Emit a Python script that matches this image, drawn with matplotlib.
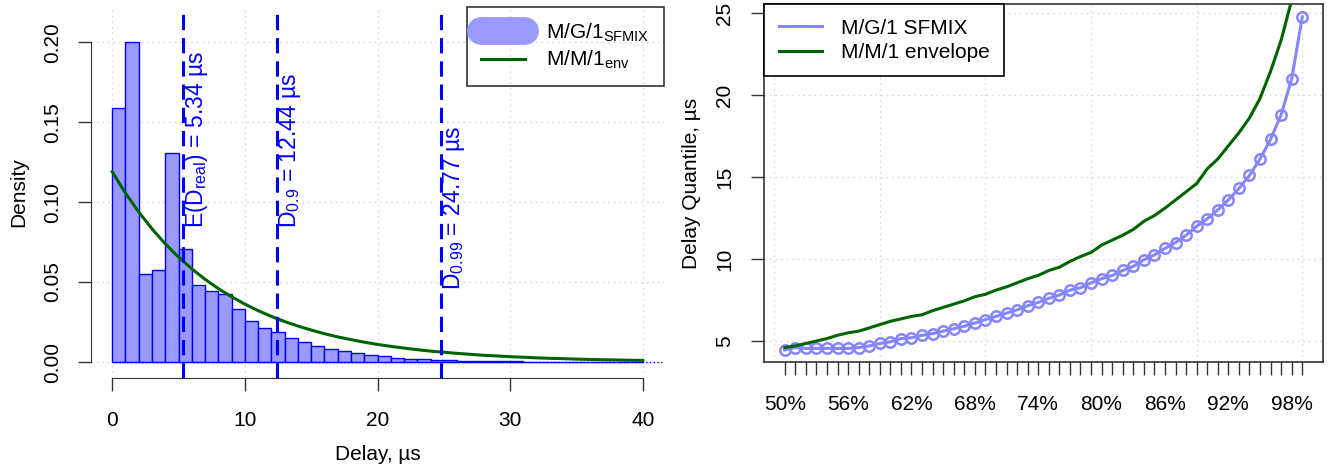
import matplotlib
matplotlib.use("Agg")
import matplotlib.pyplot as plt
from matplotlib.lines import Line2D
import numpy as np

plt.rcParams['font.family'] = ['Liberation Sans', 'DejaVu Sans']
plt.rcParams['mathtext.fontset'] = 'custom'
plt.rcParams['mathtext.rm'] = 'Liberation Sans'
plt.rcParams['mathtext.it'] = 'Liberation Sans:italic'
plt.rcParams['mathtext.bf'] = 'Liberation Sans:bold'

# -----------------------------
# Data: delay histogram (density, 1 us bins)
# -----------------------------
bin_left = list(range(0, 40))
hist_density = [0.159, 0.200, 0.0548, 0.0578, 0.131, 0.0704, 0.0482, 0.0441, 0.0425, 0.0334,
                0.0256, 0.0215, 0.0189, 0.0150, 0.0123, 0.0098, 0.0082, 0.0070, 0.0055, 0.0043,
                0.0035, 0.0027, 0.0021, 0.0017, 0.0013, 0.0011, 0.0009, 0.0007, 0.0006, 0.0005,
                0.0004, 0.0003, 0.0003, 0.0002, 0.0002, 0.0001, 0.0001, 0.0001, 0.0001, 0.0001]

# M/M/1 envelope density
env_x = list(range(0, 41))
env_density = [0.119, 0.1056, 0.0938, 0.0833, 0.0739, 0.0656, 0.0583, 0.0517, 0.0459, 0.0408,
               0.0362, 0.0321, 0.0285, 0.0253, 0.0225, 0.0200, 0.0177, 0.0157, 0.0140, 0.0124,
               0.0110, 0.0098, 0.0087, 0.0077, 0.0068, 0.0061, 0.0054, 0.0048, 0.0042, 0.0038,
               0.0033, 0.0030, 0.0026, 0.0023, 0.0021, 0.0018, 0.0016, 0.0014, 0.0013, 0.0011,
               0.0010]

# marked delay statistics
mark_values = [5.34, 12.44, 24.77]
mark_labels = [r"E(D$_{\mathrm{real}}$) = 5.34 µs",
               r"D$_{0.9}$ = 12.44 µs",
               r"D$_{0.99}$ = 24.77 µs"]
mark_text_y = [0.084, 0.084, 0.045]

# -----------------------------
# Data: quantiles 50% .. 99%
# -----------------------------
quant_pct = list(range(50, 100))
q_sfmix = [4.45, 4.6, 4.55, 4.55, 4.55, 4.55, 4.55, 4.6, 4.7, 4.85,
           4.95, 5.15, 5.2, 5.35, 5.45, 5.6, 5.75, 5.9, 6.1, 6.3,
           6.5, 6.7, 6.9, 7.15, 7.35, 7.6, 7.8, 8.1, 8.25, 8.55,
           8.8, 9.0, 9.3, 9.55, 9.95, 10.25, 10.65, 11.0, 11.45, 12.0,
           12.45, 13.0, 13.6, 14.3, 15.1, 16.1, 17.3, 18.8, 21.0, 24.77]
q_env = [4.6, 4.7, 4.85, 5.0, 5.15, 5.35, 5.5, 5.6, 5.8, 6.0,
         6.2, 6.35, 6.5, 6.6, 6.85, 7.05, 7.25, 7.45, 7.7, 7.85,
         8.1, 8.3, 8.55, 8.8, 9.0, 9.3, 9.5, 9.85, 10.15, 10.4,
         10.85, 11.15, 11.45, 11.8, 12.3, 12.65, 13.1, 13.6, 14.1, 14.6,
         15.5, 16.1, 16.9, 17.7, 18.6, 19.8, 21.45, 23.35, 25.8, 30.6]

# -----------------------------
# Styles
# -----------------------------
FS = 15
HIST_FILL = "#9999FF"
SFMIX_COL = "#8585FF"
GREEN = "#006400"
GRID_COL = "#D3D3D3"
GRID_LS = (0, (1, 3))

fig = plt.figure(figsize=(13.31, 4.71), dpi=100)
W, H = 1331, 471

# -----------------------------
# Left panel: histogram
# -----------------------------
ax1 = fig.add_axes([91 / W, (H - 378) / H, 573 / W, 371 / H])
ax1.set_xlim(-1.6, 41.6)
ax1.set_ylim(-0.01, 0.222)

for gx in [0, 10, 20, 30, 40]:
    ax1.axvline(gx, color=GRID_COL, ls=GRID_LS, lw=1, zorder=0)
for gy in [0, 0.05, 0.10, 0.15, 0.20]:
    ax1.axhline(gy, color=GRID_COL, ls=GRID_LS, lw=1, zorder=0)

ax1.bar(bin_left, hist_density, width=1, align="edge", color=HIST_FILL,
        edgecolor="#0000FF", linewidth=1.0, zorder=2)
ax1.plot([0, 41.6], [0, 0], color="#0000FF", ls=":", lw=1, zorder=2)
ax1.plot(env_x, env_density, color=GREEN, lw=2.2, zorder=3)

for v, lab, ty in zip(mark_values, mark_labels, mark_text_y):
    ax1.axvline(v, color="#0000FF", lw=2.2, ls=(0, (5, 2.6)), zorder=4)
    ax1.text(v, ty, lab, rotation=90, ha="left", va="bottom", color="#0000FF",
             fontsize=16.5, zorder=5)

for s in ["top", "right"]:
    ax1.spines[s].set_visible(False)
ax1.spines["left"].set_bounds(0, 0.2)
ax1.spines["bottom"].set_bounds(0, 40)
ax1.spines["left"].set_color("#333333")
ax1.spines["bottom"].set_color("#333333")

ax1.set_xticks([0, 10, 20, 30, 40])
ax1.set_yticks([0, 0.05, 0.10, 0.15, 0.20])
ax1.set_yticklabels(["0.00", "0.05", "0.10", "0.15", "0.20"])
ax1.tick_params(axis="both", direction="out", length=9.5, width=1, labelsize=FS,
                color="#333333")
ax1.tick_params(axis="x", pad=14)
ax1.tick_params(axis="y", pad=11, labelrotation=90)
for lbl in ax1.get_yticklabels():
    lbl.set_va("center")

ax1.set_xlabel("Delay, µs", fontsize=FS, labelpad=11)
ax1.set_ylabel("Density", fontsize=FS, labelpad=11)

h1 = [Line2D([0], [0], color=HIST_FILL, lw=20, solid_capstyle="round"),
      Line2D([0], [0], color=GREEN, lw=2.2)]
leg1 = ax1.legend(h1, [r"M/G/1$_{\mathrm{SFMIX}}$", r"M/M/1$_{\mathrm{env}}$"],
                  loc="upper right", bbox_to_anchor=(1.0, 1.0), borderaxespad=0,
                  fontsize=FS, frameon=True, fancybox=False, facecolor="none",
                  edgecolor="black", handlelength=2.1, handletextpad=1.0,
                  borderpad=0.7, labelspacing=0.25)
leg1.get_frame().set_linewidth(1.2)
leg1.set_zorder(10)

# -----------------------------
# Right panel: quantiles
# -----------------------------
idx = np.arange(1, len(quant_pct) + 1)

ax2 = fig.add_axes([764 / W, (H - 362) / H, 559 / W, 358 / H])
ax2.set_xlim(-0.96, 51.96)
ax2.set_ylim(3.72, 25.55)

for gx in [0, 10, 20, 30, 40, 50]:
    ax2.axvline(gx, color=GRID_COL, ls=GRID_LS, lw=1, zorder=0)
for gy in [5, 10, 15, 20, 25]:
    ax2.axhline(gy, color=GRID_COL, ls=GRID_LS, lw=1, zorder=0)

ax2.plot(idx, q_sfmix, "-o", color=SFMIX_COL, lw=2.2, ms=7.5, mfc="none",
         mew=1.8, zorder=3)
ax2.plot(idx, q_env, color=GREEN, lw=2.2, zorder=3)

ax2.set_xticks(idx)
ax2.set_xticklabels([f"{p}%" if (i % 6 == 0) else "" for i, p in enumerate(quant_pct)])
ax2.set_yticks([5, 10, 15, 20, 25])
ax2.tick_params(axis="both", direction="out", length=9.5, width=1, labelsize=FS,
                color="#333333")
ax2.tick_params(axis="x", pad=14)
ax2.tick_params(axis="y", pad=12, labelrotation=90)
for lbl in ax2.get_yticklabels():
    lbl.set_va("center")
for s in ax2.spines.values():
    s.set_color("#333333")
    s.set_linewidth(1.2)

ax2.set_ylabel("Delay Quantile, µs", fontsize=FS, labelpad=10)

h2 = [Line2D([0], [0], color=SFMIX_COL, lw=2.2),
      Line2D([0], [0], color=GREEN, lw=2.2)]
leg2 = ax2.legend(h2, ["M/G/1 SFMIX", "M/M/1 envelope"], loc="upper left",
                  bbox_to_anchor=(0.0, 1.0), borderaxespad=0, fontsize=FS,
                  frameon=True, fancybox=False, facecolor="white", framealpha=1,
                  edgecolor="black", handlelength=2.1, handletextpad=0.9,
                  borderpad=0.7, labelspacing=0.25)
leg2.get_frame().set_linewidth(1.2)
leg2.set_zorder(10)

fig.savefig("out.png", dpi=100)
